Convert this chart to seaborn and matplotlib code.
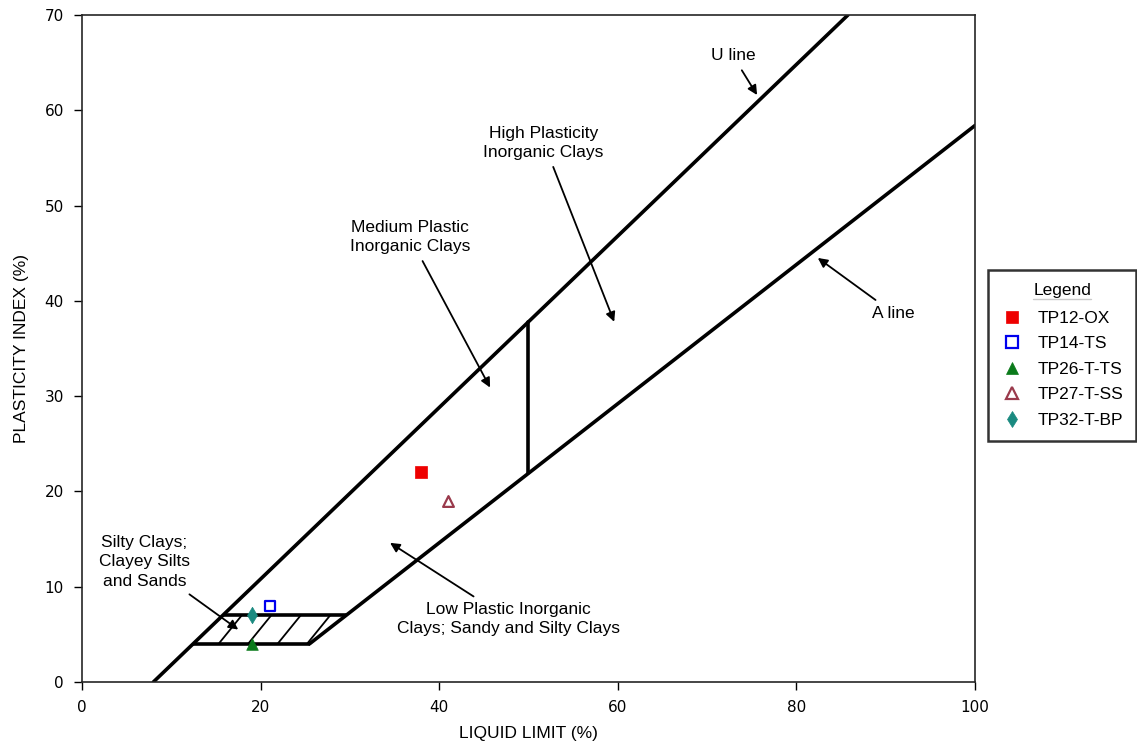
import numpy as np
import pandas as pd
import seaborn as sns
import matplotlib.pyplot as plt
from matplotlib.patches import Polygon
from matplotlib.lines import Line2D

sns.set_style("ticks")
plt.rcParams['font.family'] = ['Liberation Sans', 'DejaVu Sans']
plt.rcParams['text.color'] = 'black'
plt.rcParams['axes.labelcolor'] = 'black'
plt.rcParams['xtick.color'] = 'black'
plt.rcParams['ytick.color'] = 'black'

# sample data (liquid limit, plasticity index)
samples = ['TP12-OX', 'TP14-TS', 'TP26-T-TS', 'TP27-T-SS', 'TP32-T-BP']
liquid_limit = [38, 21, 19, 41, 19]
plasticity_index = [22, 8, 4, 19, 7]

# chart lines: U line PI = 0.9(LL-8), A line PI = 0.73(LL-20)
u_slope, u_ll0 = 0.9, 8
a_slope, a_ll0 = 0.73, 20
cl_ml_pi = [4, 7]      # hatched CL-ML band
split_ll = 50          # low / high plasticity boundary

marker_styles = {
    'TP12-OX':   dict(marker='s', color='#ee0000', edge='#ee0000', fill=True, size=70),
    'TP14-TS':   dict(marker='s', color='white', edge='#0000ee', fill=False, size=60),
    'TP26-T-TS': dict(marker='^', color='#0a7a1a', edge='#0a7a1a', fill=True, size=70),
    'TP27-T-SS': dict(marker='^', color='white', edge='#9a3a4c', fill=False, size=60),
    'TP32-T-BP': dict(marker='d', color='#1a8a80', edge='#1a8a80', fill=True, size=70),
}

df = pd.DataFrame({'sample': samples, 'LL': liquid_limit, 'PI': plasticity_index})

fig = plt.figure(figsize=(11.37, 7.49), dpi=100)
ax = fig.add_axes([0.0721, 0.0895, 0.7854, 0.8905])

lw = 2.6
# U line
u_x = np.array([u_ll0, u_ll0 + 70 / u_slope])
sns.lineplot(x=u_x, y=u_slope * (u_x - u_ll0), ax=ax, color='black', lw=lw)
# A line (starts at bottom of CL-ML band)
a_x = np.array([a_ll0 + cl_ml_pi[0] / a_slope, 100])
sns.lineplot(x=a_x, y=a_slope * (a_x - a_ll0), ax=ax, color='black', lw=lw)
# vertical line at LL = 50
ax.plot([split_ll, split_ll], [a_slope * (split_ll - a_ll0), u_slope * (split_ll - u_ll0)],
        color='black', lw=lw)

# CL-ML band
pts = []
for pi in cl_ml_pi:
    pts.append([u_ll0 + pi / u_slope, pi])
for pi in cl_ml_pi[::-1]:
    pts.append([a_ll0 + pi / a_slope, pi])
band = Polygon(pts, closed=True, fill=False, edgecolor='none')
ax.add_patch(band)
for pi in cl_ml_pi:
    ax.plot([u_ll0 + pi / u_slope, a_ll0 + pi / a_slope], [pi, pi], color='black', lw=lw,
            solid_capstyle='butt')
# hatch lines: run 2.6 LL for every 3 PI, spaced 3.3 LL along the bottom edge
for b in np.arange(12.0, 27.0, 3.3):
    ln, = ax.plot([b - 2.6 / 3, b + 2.6 * 4 / 3], [3, 8], color='black', lw=1.3)
    ln.set_clip_path(band)

# samples
for s in samples:
    st = marker_styles[s]
    sub = df[df['sample'] == s]
    sns.scatterplot(data=sub, x='LL', y='PI', ax=ax, marker=st['marker'], s=st['size'],
                    color=st['color'], edgecolor=st['edge'], linewidth=1.6 if not st['fill'] else 0.5,
                    zorder=5, label=s, legend=False)

ax.set_xlim(0, 100)
ax.set_ylim(0, 70)
ax.set_xticks(range(0, 101, 20))
ax.set_yticks(range(0, 71, 10))
ax.tick_params(length=6, width=1, pad=7, colors='black')
for lab in ax.get_xticklabels() + ax.get_yticklabels():
    lab.set_fontfamily('DejaVu Sans')
    lab.set_fontsize(11)
for sp in ax.spines.values():
    sp.set_linewidth(1.2)
    sp.set_visible(True)
ax.set_xlabel('LIQUID LIMIT (%)', fontsize=12.5, labelpad=8)
ax.set_ylabel('PLASTICITY INDEX (%)', fontsize=12.5, labelpad=11)

arrow = dict(arrowstyle='-|>', color='black', lw=1.3, mutation_scale=14, shrinkA=3, shrinkB=0)
tfont = dict(fontsize=12.5, ha='center', va='center', linespacing=1.35)
ax.annotate('U line', xy=(75.6, 61.6), xytext=(72.9, 65.7), arrowprops=arrow, **tfont)
ax.annotate('High Plasticity\nInorganic Clays', xy=(59.6, 37.8), xytext=(51.7, 56.6),
            arrowprops=arrow, **tfont)
ax.annotate('Medium Plastic\nInorganic Clays', xy=(45.7, 30.9), xytext=(36.7, 46.7),
            arrowprops=arrow, **tfont)
ax.annotate('A line', xy=(82.4, 44.5), xytext=(90.9, 38.7), arrowprops=arrow, **tfont)
ax.annotate('Low Plastic Inorganic\nClays; Sandy and Silty Clays', xy=(34.5, 14.6),
            xytext=(47.8, 6.6), arrowprops=arrow, **tfont)
ax.annotate('Silty Clays;\nClayey Silts\nand Sands', xy=(17.5, 5.5), xytext=(7.0, 12.6),
            arrowprops=arrow, **tfont)

handles = []
for s in samples:
    st = marker_styles[s]
    handles.append(Line2D([], [], ls='none', marker=st['marker'], markersize=8,
                          markerfacecolor=st['color'], markeredgecolor=st['edge'],
                          markeredgewidth=1.6 if not st['fill'] else 0.5, label=s))
leg = fig.legend(handles=handles, title='Legend', loc='upper left',
                 bbox_to_anchor=(0.869, 0.6395), borderaxespad=0, fontsize=12.5,
                 title_fontsize=12.5, frameon=True, fancybox=False, edgecolor='black',
                 handletextpad=0.8, borderpad=0.75, labelspacing=0.6, handlelength=1.3)
leg.get_frame().set_linewidth(1.8)
leg._legend_box.sep = 9

fig.canvas.draw()
tb = leg.get_title().get_window_extent()
fw, fh = fig.bbox.width, fig.bbox.height
fig.add_artist(Line2D([tb.x0 / fw, tb.x1 / fw], [(tb.y0 - 1) / fh, (tb.y0 - 1) / fh],
                      color='black', lw=1.0))

fig.savefig('out.png', dpi=100)
